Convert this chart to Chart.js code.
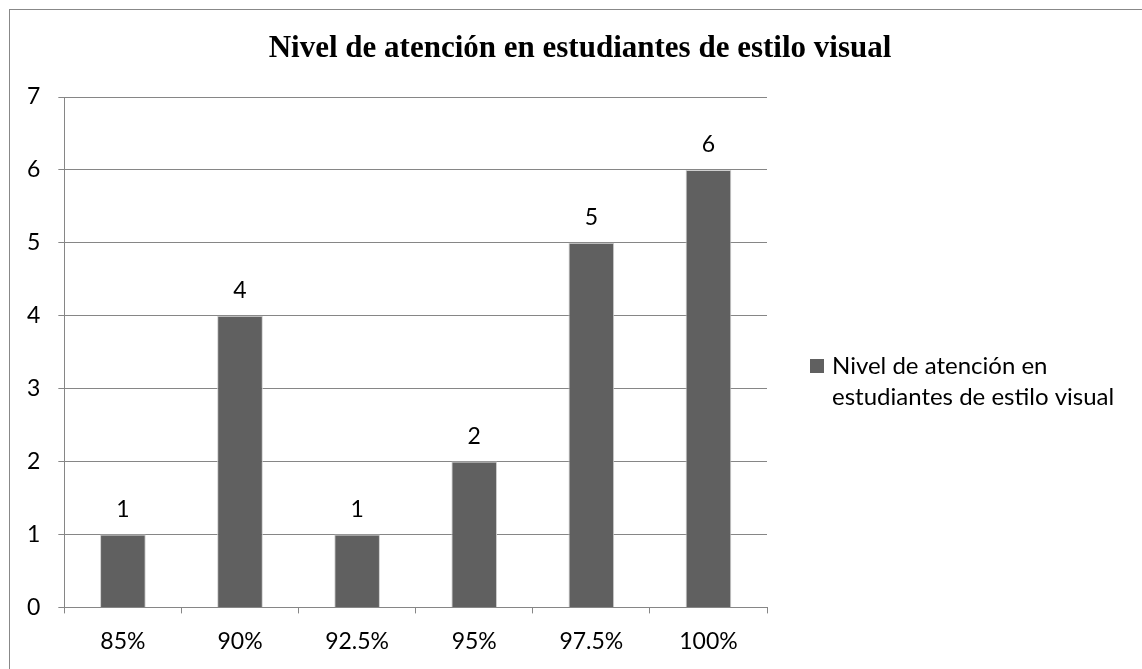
<!DOCTYPE html>
<html>
<head>
<meta charset="utf-8">
<script src="https://cdn.jsdelivr.net/npm/chart.js@4.4.1/dist/chart.umd.min.js"></script>
<style>
  body { margin: 0; background: #fff; }
  #wrap { position: relative; width: 1142px; height: 669px; overflow: hidden; }
  #frame { position: absolute; left: 9px; top: 9px; width: 1200px; height: 700px; border: 1px solid #888; box-sizing: border-box; }
  canvas { position: absolute; left: 0; top: 0; }
</style>
</head>
<body>
<div id="wrap">
  <div id="frame"></div>
  <canvas id="myChart" width="1142" height="669"></canvas>
</div>
<script>
// datos del grafico
const categorias = ['85%', '90%', '92.5%', '95%', '97.5%', '100%'];
const valores = [1, 4, 1, 2, 5, 6];
const titulo = 'Nivel de atención en estudiantes de estilo visual';
const leyenda = ['Nivel de atención en', 'estudiantes de estilo visual'];

const fuente = 'Lato, "Open Sans", sans-serif';
const gris = '#868686';

// titulo dibujado a mano (el marco del grafico sigue fuera de la imagen)
const tituloPlugin = {
  id: 'tituloPlugin',
  beforeDraw(chart) {
    const ctx = chart.ctx;
    ctx.save();
    ctx.font = 'bold 31px "Liberation Serif", "Times New Roman", serif';
    ctx.fillStyle = '#000';
    ctx.textAlign = 'center';
    ctx.textBaseline = 'middle';
    ctx.fillText(titulo, 580, 49);
    ctx.restore();
  }
};

// numeros encima de cada barra
const etiquetas = {
  id: 'etiquetas',
  afterDatasetsDraw(chart) {
    const ctx = chart.ctx;
    const meta = chart.getDatasetMeta(0);
    ctx.save();
    ctx.font = '23px ' + fuente;
    ctx.fillStyle = '#000';
    ctx.textAlign = 'center';
    ctx.textBaseline = 'middle';
    meta.data.forEach(function(bar, i) {
      ctx.fillText(String(valores[i]), bar.x, bar.y - 25);
    });
    ctx.restore();
  }
};

// leyenda a la derecha, en dos lineas
const leyendaLado = {
  id: 'leyendaLado',
  afterDraw(chart) {
    const ctx = chart.ctx;
    const x = 810;
    const y = 366;
    ctx.save();
    ctx.fillStyle = '#606060';
    ctx.fillRect(x, y - 7, 14, 14);
    ctx.font = '24px ' + fuente;
    ctx.fillStyle = '#000';
    ctx.textBaseline = 'middle';
    ctx.fillText(leyenda[0], x + 22, y);
    ctx.fillText(leyenda[1], x + 22, y + 31);
    ctx.restore();
  }
};

const data1 = {
  labels: categorias,
  datasets: [{
    label: titulo,
    data: valores,
    backgroundColor: '#606060',
    borderColor: '#cfcfcf',
    borderWidth: 1,
    barPercentage: 0.39,
    categoryPercentage: 1
  }]
};

const config1 = {
  type: 'bar',
  data: data1,
  options: {
    responsive: false,
    animation: false,
    layout: { padding: { top: 97, right: 375, left: 9, bottom: 0 } },
    plugins: {
      legend: { display: false },
      title: { display: false },
      tooltip: { enabled: false }
    },
    scales: {
      x: {
        grid: { drawOnChartArea: false, offset: true, tickLength: 6, color: gris },
        border: { color: gris },
        ticks: { color: '#000', font: { family: fuente, size: 23 }, padding: 14 }
      },
      y: {
        min: 0,
        max: 7,
        ticks: { stepSize: 1, color: '#000', font: { family: fuente, size: 23 }, padding: 18 },
        grid: { color: gris, tickLength: 6 },
        border: { color: gris }
      }
    }
  },
  plugins: [tituloPlugin, etiquetas, leyendaLado]
};

const myChart1 = new Chart(document.getElementById('myChart'), config1);
</script>
</body>
</html>
